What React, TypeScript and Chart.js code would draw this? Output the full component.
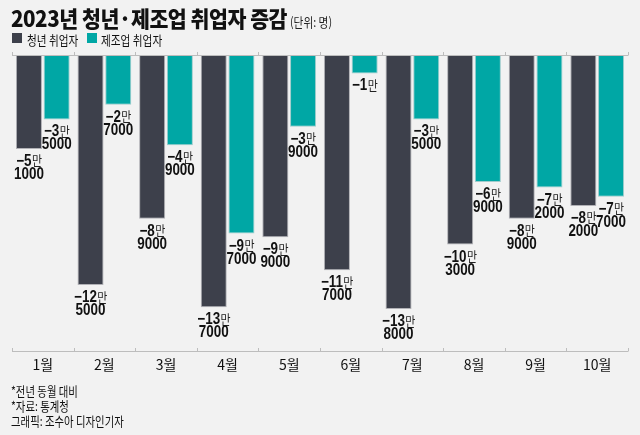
import React, { useEffect, useRef } from "react";
import { Chart, registerables } from "chart.js";

Chart.register(...registerables);

const months = ["1월", "2월", "3월", "4월", "5월", "6월", "7월", "8월", "9월", "10월"];
const youthValues = [-51000, -125000, -89000, -137000, -99000, -117000, -138000, -103000, -89000, -82000];
const mfgValues = [-35000, -27000, -49000, -97000, -39000, -10000, -35000, -69000, -72000, -77000];
const seriesNames = ["청년 취업자", "제조업 취업자"];
const footnotes = ["*전년 동월 대비", "*자료: 통계청", "그래픽: 조수아 디자인기자"];

const DARK = "#3d404b";
const TEAL = "#00a7a5";
const BG = "#f2f2f2";
const AXIS = "#bdbdbd";
const KR = "'Noto Sans CJK KR', 'Noto Sans', sans-serif";

const axisPlugin = {
  id: "customAxes",
  afterDatasetsDraw(chart: any) {
    const { ctx, chartArea } = chart;
    const x = chart.scales.x;
    const n = months.length;
    const step = (x.right - x.left) / n;
    ctx.save();
    ctx.strokeStyle = AXIS;
    ctx.lineWidth = 1;
    ctx.beginPath();
    ctx.moveTo(x.left, chartArea.top + 0.5);
    ctx.lineTo(x.right, chartArea.top + 0.5);
    ctx.stroke();
    ctx.beginPath();
    ctx.moveTo(x.left, chartArea.bottom + 0.5);
    ctx.lineTo(x.right, chartArea.bottom + 0.5);
    ctx.stroke();
    for (let i = 0; i <= n; i++) {
      const px = Math.round(x.getPixelForValue(i) - step / 2) + 0.5;
      ctx.beginPath();
      ctx.moveTo(px, chartArea.top - 3);
      ctx.lineTo(px, chartArea.top + 0.5);
      ctx.stroke();
      ctx.beginPath();
      ctx.moveTo(px, chartArea.bottom - 3);
      ctx.lineTo(px, chartArea.bottom + 0.5);
      ctx.stroke();
    }
    ctx.restore();
  },
};

const labelPlugin = {
  id: "valueLabels",
  afterDatasetsDraw(chart: any) {
    const { ctx } = chart;
    const sx = 0.84;
    const numFont = "bold 16px 'Liberation Sans', Arial, sans-serif";
    const manFont = `13px ${KR}`;
    chart.data.datasets.forEach((ds: any, di: number) => {
      const meta = chart.getDatasetMeta(di);
      meta.data.forEach((el: any, i: number) => {
        const v = Math.abs(ds.data[i]);
        const man = Math.floor(v / 10000);
        const rest = v % 10000;
        const part1 = "\u2212" + man;
        const part2 = "만";
        ctx.save();
        ctx.translate(el.x, el.y);
        ctx.scale(sx, 1);
        ctx.textBaseline = "alphabetic";
        ctx.textAlign = "left";
        ctx.font = numFont;
        const w1 = ctx.measureText(part1).width;
        ctx.font = manFont;
        const w2 = ctx.measureText(part2).width;
        const total = w1 + w2;
        const start = -total / 2;
        ctx.fillStyle = "#111";
        ctx.font = numFont;
        ctx.fillText(part1, start, 17);
        ctx.font = manFont;
        ctx.fillStyle = "#222";
        ctx.fillText(part2, start + w1 + 0.5, 16.5);
        if (rest > 0) {
          ctx.font = numFont;
          ctx.fillStyle = "#111";
          ctx.textAlign = "center";
          ctx.fillText(String(rest), 0, 30);
        }
        ctx.restore();
      });
    });
  },
};

export default function App() {
  const ref = useRef<HTMLCanvasElement>(null);
  useEffect(() => {
    if (!ref.current) return;
    const chart = new Chart(ref.current, {
      type: "bar",
      data: {
        labels: months,
        datasets: [
          {
            label: seriesNames[0],
            data: youthValues,
            backgroundColor: DARK,
            borderColor: "rgba(170,170,175,0.9)",
            borderWidth: 1,
            categoryPercentage: 0.9,
            barPercentage: 0.94,
          },
          {
            label: seriesNames[1],
            data: mfgValues,
            backgroundColor: TEAL,
            borderColor: "rgba(150,200,200,0.9)",
            borderWidth: 1,
            categoryPercentage: 0.9,
            barPercentage: 0.94,
          },
        ],
      },
      options: {
        responsive: false,
        animation: false,
        devicePixelRatio: 1,
        layout: { padding: { left: 12, right: 12, top: 55, bottom: 0 } },
        plugins: { legend: { display: false }, tooltip: { enabled: false } },
        scales: {
          x: {
            offset: true,
            grid: { display: false, drawTicks: false },
            border: { display: false },
            ticks: {
              padding: 5,
              color: "#111",
              font: { family: KR, size: 14 },
              maxRotation: 0,
              autoSkip: false,
            },
            afterFit: (axis: any) => {
              axis.height = 84;
            },
          },
          y: { display: false, min: -160800, max: 0 },
        },
      },
      plugins: [axisPlugin, labelPlugin],
    });
    return () => chart.destroy();
  }, []);

  const cond = (scale: number): React.CSSProperties => ({
    display: "inline-block",
    transform: `scaleX(${scale})`,
    transformOrigin: "left center",
    whiteSpace: "nowrap",
  });

  return (
    <div
      style={{
        position: "absolute",
        left: 0,
        top: 0,
        width: 640,
        height: 435,
        background: BG,
        fontFamily: KR,
        overflow: "hidden",
      }}
    >
      <canvas ref={ref} width={640} height={435} style={{ position: "absolute", left: 0, top: 0 }} />
      <div style={{ position: "absolute", left: 11, top: 4, lineHeight: "26px", height: 26, color: "#111" }}>
        <span style={{ ...cond(0.935), fontSize: 22, fontWeight: 900, letterSpacing: -0.5 }}>
          2023년 청년·제조업 취업자 증감
        </span>
      </div>
      <div style={{ position: "absolute", left: 290, top: 11, lineHeight: "18px", color: "#222" }}>
        <span style={{ ...cond(0.82), fontSize: 13 }}>(단위: 명)</span>
      </div>
      <div style={{ position: "absolute", left: 12, top: 33, width: 10, height: 10, background: DARK }} />
      <div style={{ position: "absolute", left: 27, top: 29, lineHeight: "18px", color: "#111" }}>
        <span style={{ ...cond(0.82), fontSize: 13 }}>{seriesNames[0]}</span>
      </div>
      <div style={{ position: "absolute", left: 87, top: 33, width: 10, height: 10, background: TEAL }} />
      <div style={{ position: "absolute", left: 101, top: 29, lineHeight: "18px", color: "#111" }}>
        <span style={{ ...cond(0.82), fontSize: 13 }}>{seriesNames[1]}</span>
      </div>
      {footnotes.map((t, i) => (
        <div
          key={i}
          style={{ position: "absolute", left: 11, top: 380 + i * 15, lineHeight: "18px", color: "#111" }}
        >
          <span style={{ ...cond(0.8), fontSize: 13 }}>{t}</span>
        </div>
      ))}
    </div>
  );
}
